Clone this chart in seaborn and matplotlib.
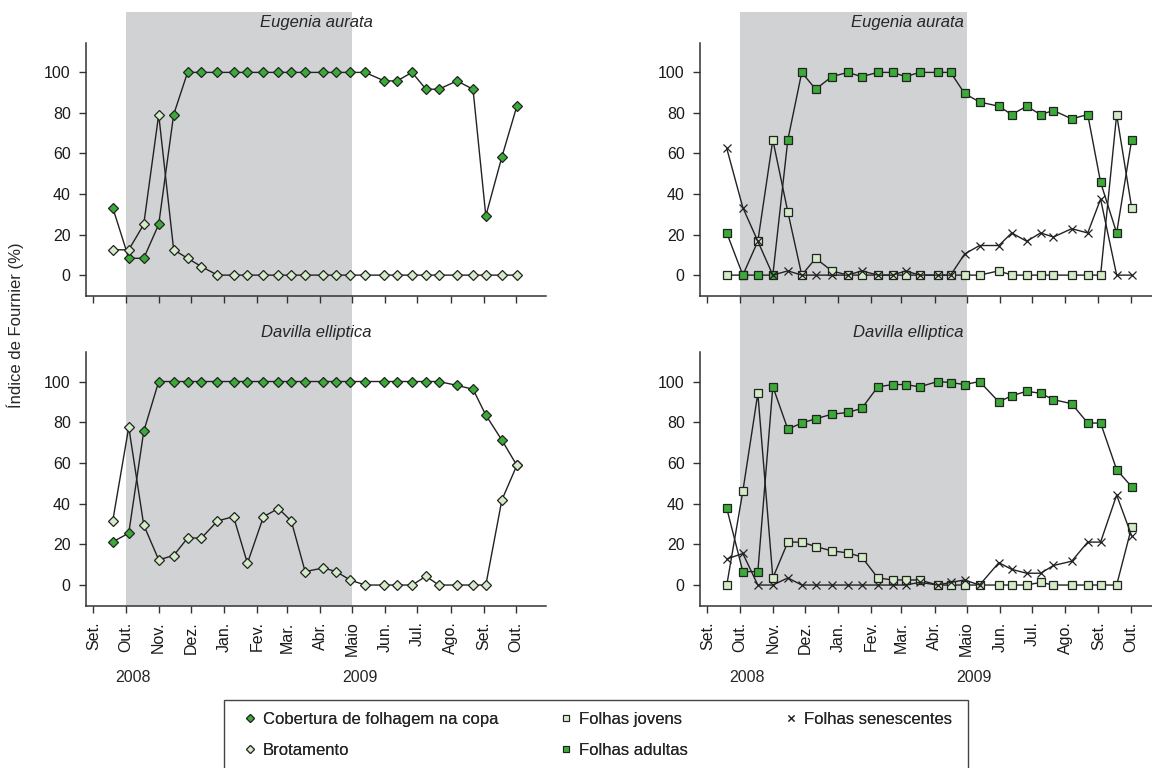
import matplotlib
matplotlib.use("Agg")
import matplotlib.pyplot as plt
import matplotlib.transforms as mtransforms
from matplotlib.lines import Line2D
from matplotlib.patches import Rectangle
import pandas as pd
import seaborn as sns

sns.set_style("ticks")
plt.rcParams["font.family"] = ["Liberation Sans", "DejaVu Sans"]
plt.rcParams["font.size"] = 11.5

# datas das observações (aprox. quinzenais)
dates = pd.to_datetime([
    "2008-09-19", "2008-10-04", "2008-10-18", "2008-11-01", "2008-11-15",
    "2008-11-28", "2008-12-11", "2008-12-26", "2009-01-10", "2009-01-23",
    "2009-02-07", "2009-02-21", "2009-03-05", "2009-03-18", "2009-04-04",
    "2009-04-16", "2009-04-29", "2009-05-13", "2009-05-31", "2009-06-12",
    "2009-06-26", "2009-07-09", "2009-07-21", "2009-08-07", "2009-08-22",
    "2009-09-03", "2009-09-18", "2009-10-02",
])

# Eugenia aurata
ea_cobertura = [33.3, 8.3, 8.3, 25.0, 79.2, 100, 100, 100, 100, 100, 100, 100, 100, 100,
                100, 100, 100, 100, 95.8, 95.8, 100, 91.7, 91.7, 95.8, 91.7, 29.2, 58.3, 83.3]
ea_brotamento = [12.5, 12.5, 25.0, 79.2, 12.5, 8.3, 4.2, 0, 0, 0, 0, 0, 0, 0,
                 0, 0, 0, 0, 0, 0, 0, 0, 0, 0, 0, 0, 0, 0]
ea_jovens = [0, 0, 16.7, 66.7, 31.2, 0, 8.3, 2.1, 0, 0, 0, 0, 0, 0,
             0, 0, 0, 0, 2.1, 0, 0, 0, 0, 0, 0, 0, 79.2, 33.3]
ea_adultas = [20.8, 0, 0, 0, 66.7, 100, 91.7, 97.9, 100, 97.9, 100, 100, 97.9, 100,
              100, 100, 89.6, 85.4, 83.3, 79.2, 83.3, 79.2, 81.2, 77.1, 79.2, 45.8, 20.8, 66.7]
ea_senescentes = [62.5, 33.3, 16.7, 0, 2.1, 0, 0, 0, 0, 2.1, 0, 0, 2.1, 0,
                  0, 0, 10.4, 14.6, 14.6, 20.8, 16.7, 20.8, 18.8, 22.9, 20.8, 37.5, 0, 0]

# Davilla elliptica
de_cobertura = [21.2, 25.5, 75.5, 100, 100, 100, 100, 100, 100, 100, 100, 100, 100, 100,
                100, 100, 100, 100, 100, 100, 100, 100, 100, 98.1, 96.2, 83.5, 71.2, 58.8]
de_brotamento = [31.5, 77.6, 29.5, 12.4, 14.5, 23.1, 23.1, 31.5, 33.6, 10.7, 33.6, 37.6, 31.5, 6.6,
                 8.4, 6.6, 2.5, 0, 0, 0, 0, 4.3, 0, 0, 0, 0, 41.8, 58.8]
de_jovens = [0, 46.1, 94.2, 3.5, 21.1, 21.1, 18.9, 16.8, 15.8, 13.8, 3.5, 2.5, 2.5, 2.5,
             0, 0, 0, 0, 0, 0, 0, 1.3, 0, 0, 0, 0, 0, 28.5]
de_adultas = [37.7, 6.6, 6.6, 97.5, 76.6, 79.6, 81.7, 83.9, 84.8, 86.8, 97.4, 98.5, 98.5, 97.4,
              100, 99.5, 98.5, 100, 90.0, 93.0, 95.2, 94.2, 91.1, 89.1, 79.6, 79.6, 56.7, 48.3]
de_senescentes = [12.8, 15.5, 0, 0, 3.5, 0, 0, 0, 0, 0, 0, 0, 0, 1.3,
                  0, 1.3, 2.5, 0, 11.0, 7.7, 5.8, 5.8, 9.6, 11.7, 21.1, 21.1, 44.2, 24.2]

month_ticks = pd.date_range("2008-09-01", "2009-10-01", freq="MS")
month_labels = ["Set.", "Out.", "Nov.", "Dez.", "Jan.", "Fev.", "Mar.", "Abr.",
                "Maio", "Jun.", "Jul.", "Ago.", "Set.", "Out."]
year_labels = ["2008", "2009"]
year_pos = pd.to_datetime(["2008-10-08", "2009-05-08"])
seca = (pd.Timestamp("2008-10-01"), pd.Timestamp("2009-05-01"))

VERDE = "#3bab38"
VERDE_CLARO = "#d3ebc6"
CINZA = "#d1d2d4"
LINHA = "#222222"

# estilo de cada série
estilos = {
    "Cobertura de folhagem na copa": dict(marker="D", markersize=5.3, markerfacecolor=VERDE),
    "Brotamento": dict(marker="D", markersize=5.3, markerfacecolor=VERDE_CLARO),
    "Folhas jovens": dict(marker="s", markersize=5.6, markerfacecolor=VERDE_CLARO),
    "Folhas adultas": dict(marker="s", markersize=5.6, markerfacecolor=VERDE),
    "Folhas senescentes": dict(marker="x", markersize=5.5, markerfacecolor="none"),
}

paineis = [
    ("Eugenia aurata", 0, 0, [("Cobertura de folhagem na copa", ea_cobertura),
                              ("Brotamento", ea_brotamento)]),
    ("Eugenia aurata", 0, 1, [("Folhas jovens", ea_jovens),
                              ("Folhas adultas", ea_adultas),
                              ("Folhas senescentes", ea_senescentes)]),
    ("Davilla elliptica", 1, 0, [("Cobertura de folhagem na copa", de_cobertura),
                                 ("Brotamento", de_brotamento)]),
    ("Davilla elliptica", 1, 1, [("Folhas jovens", de_jovens),
                                 ("Folhas adultas", de_adultas),
                                 ("Folhas senescentes", de_senescentes)]),
]

W, H = 1152, 768
fig = plt.figure(figsize=(W / 100, H / 100), dpi=100)

# geometria em pixels
col_x = [(86, 545.7), (700, 1152)]
row_y = [(43, 296), (352, 606)]
xlims = [(pd.Timestamp("2008-08-25"), pd.Timestamp("2009-10-29")),
         (pd.Timestamp("2008-08-25"), pd.Timestamp("2009-10-21"))]
title_x = [0.501, 0.46]

# faixa cinza do período seco, contínua entre os painéis
for c, (x0, x1) in enumerate(col_x):
    bg = fig.add_axes([x0 / W, 1 - 606 / H, (x1 - x0) / W, (606 - 12) / H], zorder=0)
    bg.axvspan(seca[0], seca[1], color=CINZA, lw=0)
    bg.set_xlim(xlims[c])
    bg.axis("off")

for nome, r, c, series in paineis:
    x0, x1 = col_x[c]
    y0, y1 = row_y[r]
    ax = fig.add_axes([x0 / W, 1 - y1 / H, (x1 - x0) / W, (y1 - y0) / H], zorder=1)
    ax.set_facecolor("none")
    for rotulo, valores in series:
        df = pd.DataFrame({"data": dates, "valor": valores})
        sns.lineplot(data=df, x="data", y="valor", ax=ax, color=LINHA, lw=1.0,
                     markeredgecolor=LINHA, markeredgewidth=0.9, legend=False,
                     **estilos[rotulo])
    ax.set_xlim(xlims[c])
    ax.set_ylim(-10.3, 114.5)
    ax.set_yticks([0, 20, 40, 60, 80, 100])
    ax.set_xticks(month_ticks)
    if r == 1:
        ax.set_xticklabels(month_labels, rotation=90)
        trans = mtransforms.blended_transform_factory(ax.transData, fig.transFigure)
        for lab, pos in zip(year_labels, year_pos):
            ax.text(pos, 1 - 678 / H, lab, transform=trans, ha="center", va="center",
                    fontsize=11.5)
    else:
        ax.set_xticklabels([])
    ax.set_xlabel("")
    ax.set_ylabel("")
    fig.text((x0 + title_x[c] * (x1 - x0)) / W, 1 - (y0 - 20) / H, nome,
             style="italic", ha="center", va="center", fontsize=12, zorder=3)
    sns.despine(ax=ax)
    for s in ["left", "bottom"]:
        ax.spines[s].set_color("#333333")
        ax.spines[s].set_linewidth(1.1)
    ax.tick_params(direction="out", length=5, width=1, color="#333333", pad=6,
                   labelsize=11.5, labelcolor="#1a1a1a")

fig.text(15 / W, 1 - 325 / H, "Índice de Fournier (%)", rotation=90,
         ha="center", va="center", fontsize=12)

# legenda comum: uma legenda por coluna dentro de uma caixa única
handles = {}
for rotulo, st in estilos.items():
    handles[rotulo] = Line2D([], [], lw=0, color=LINHA, markeredgecolor=LINHA,
                             markeredgewidth=0.8,
                             marker=st["marker"], markersize=st["markersize"] * 0.8,
                             markerfacecolor=st["markerfacecolor"], label=rotulo)
colunas = [
    (243, ["Cobertura de folhagem na copa", "Brotamento"]),
    (559, ["Folhas jovens", "Folhas adultas"]),
    (784, ["Folhas senescentes"]),
]
for x_px, nomes in colunas:
    leg = fig.legend(handles=[handles[n] for n in nomes], loc="upper left",
                     bbox_to_anchor=(x_px / W, 1 - 712 / H), frameon=False,
                     fontsize=12, handlelength=0.8, handletextpad=0.38,
                     borderpad=0, labelspacing=0.95, borderaxespad=0)
    fig.add_artist(leg)

fig.add_artist(Rectangle((224 / W, 1 - 772 / H), 744 / W, 72 / H,
                         transform=fig.transFigure, fill=False,
                         edgecolor="#444444", lw=1.0))

fig.savefig("out.png", dpi=100)
